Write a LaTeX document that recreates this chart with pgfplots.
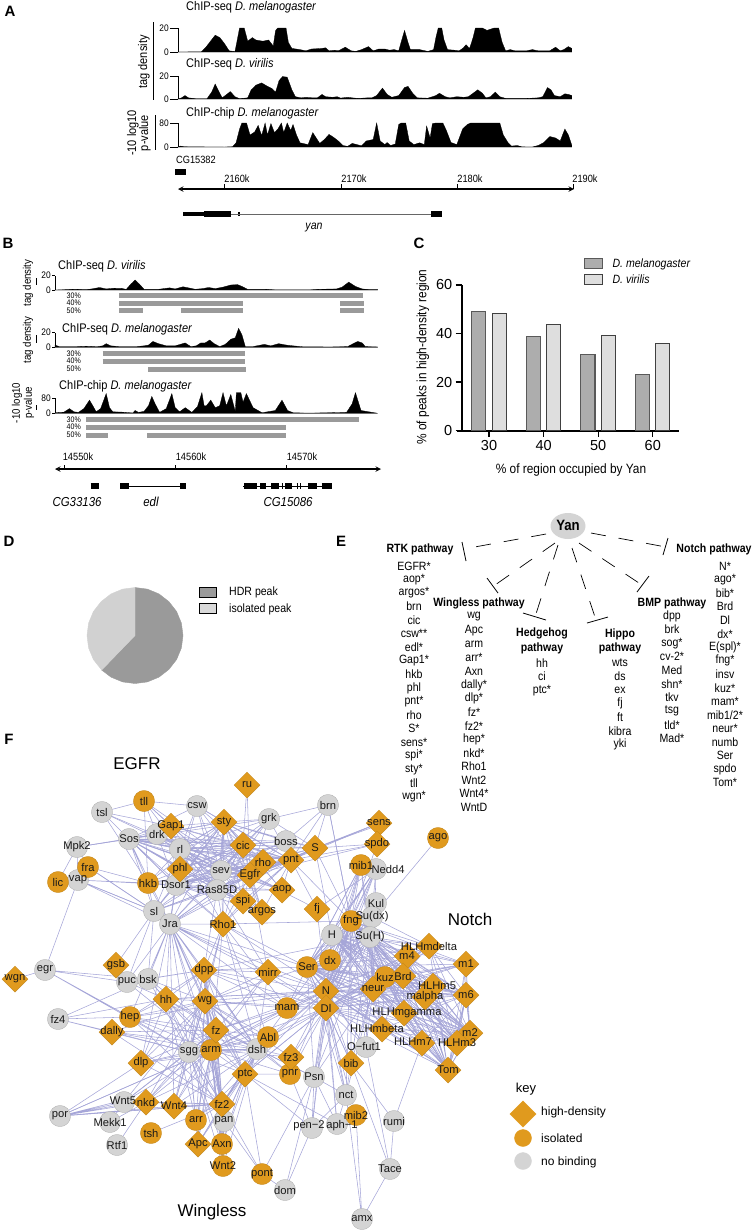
\documentclass[border=0pt]{standalone}
\usepackage{fontspec}
\usepackage{pgfplots}
\usepackage{pgfplotstable}
\pgfplotsset{compat=1.18}
\setmainfont{Liberation Sans}
\newfontfamily\cond[FakeStretch=0.88]{Liberation Sans}
\newcommand{\fs}[1]{\fontsize{#1}{#1}\selectfont}
\definecolor{edgec}{HTML}{A6A6D8}
\definecolor{orn}{HTML}{E09A1E}
\definecolor{gry}{HTML}{D4D4D4}
\definecolor{barg}{HTML}{9A9A9A}
\pgfplotsset{/pgf/number format/assume math mode=true,
 trk/.style={scale only axis,clip=false,axis y line=left,hide x axis,xtick=\empty,axis line style={-},
 tick align=outside,major tick length=3pt,tick style={black,line width=.5pt},
 yticklabel style={font=\cond\fs{9.5},inner sep=1pt},line width=.6pt}}
\pgfplotstableread{
x y label
247 785 ru
171 826 Gap1
224 822 sty
243 845 cic
263 862 rho
291 860 pnt
180 869 phl
250 875 Egfr
282 890 aop
243 901 spi
262 912 argos
223 924 Rho1
116 965 gsb
204 970 dpp
268 972 mirr
15 979 wgn
166 999 hh
205 1001 wg
112 1032 dally
216 1030 fz
291 1057 fz3
141 1063 dlp
245 1074 ptc
146 1102 nkd
174 1106 Wnt4
222 1104 fz2
198 1144 Apc
379 823 sens
315 848 S
377 844 spdo
317 909 fj
429 946 HLHmdelta
407 956 m4
466 964 m1
403 976 Brd
433 986 {}
326 991 N
373 989 neur
425 997 malpha
466 995 m6
326 1008 Dl
404 1013 {}
382 1029 {}
470 1033 m2
422 1043 {}
457 1043 HLHm3
351 1063 bib
448 1070 Tom
}\diam
\pgfplotstableread{
x y label
144 801 tll
88 867 fra
58 882 lic
148 883 hkb
287 1008 mam
130 1017 hep
268 1037 Abl
211 1050 arm
290 1074 pnr
196 1120 arr
151 1133 tsh
222 1144 Axn
223 1166 Wnt2
262 1174 pont
438 838 ago
361 865 mib1
351 921 fng
330 960 dx
307 967 Ser
385 977 kuz
356 1115 mib2
}\circl
\pgfplotstableread{
x y label
102 812 tsl
197 806 csw
269 819 grk
157 834 drk
129 839 Sos
77 847 Mpk2
286 841 boss
180 849 rl
78 880 vap
176 885 Dsor1
221 871 sev
217 890 Ras85D
154 911 sl
170 924 Jra
45 970 egr
127 982 puc
148 979 bsk
58 1019 fz4
189 1052 sgg
257 1049 dsh
124 1102 {}
60 1116 por
224 1121 pan
110 1122 Mekk1
117 1145 Rtf1
285 1190 dom
328 805 brn
376 869 {}
376 903 Kul
372 917 Su(dx)
332 935 H
370 937 Su(H)
366 1047 {}
314 1077 Psn
346 1095 nct
394 1121 rumi
312 1128 {}
337 1124 {}
390 1169 Tace
362 1219 amx
}\grayn
\pgfplotstableread{
x y label
388 869 Nedd4
437 986 HLHm5
407 1013 HLHmgamma
377 1028 HLHmbeta
413 1042 HLHm7
364 1046 O−fut1
309 1126 pen−2
342 1126 aph−1
123 1101 Wnt5
}\offl
\def\RTK{171/826,197/806,224/822,269/819,157/834,129/839,286/841,243/845,180/849,263/862,291/860,180/869,148/883,176/885,221/871,217/890,282/890,243/901,262/912,154/911,170/924,223/924,315/848}
\def\WGL{205/1001,166/999,204/970,216/1030,130/1017,112/1032,141/1063,245/1074,222/1104,174/1106,146/1102,196/1120,224/1121,198/1144,222/1144,223/1166,189/1052,211/1050,257/1049,268/1037}
\def\NOT{373/989,385/977,403/976,407/956,429/946,466/964,466/995,433/986,425/997,404/1013,382/1029,470/1033,422/1043,457/1043,448/1070}
\def\COR{326/991,326/1008,307/967,330/960,351/921,332/935,370/937,372/917,376/903,361/865,376/869,351/1063,314/1077,287/1008,366/1047,346/1095}
\newcommand{\hub}[3]{\edef\lst{#3}\gdef\acc{}\foreach \a/\b in \lst {\xdef\acc{\acc(#1,#2)(\a,\b)}}\edef\tmp{\noexpand\addplot[edgec,line width=.55pt,forget plot] coordinates {\acc};}\tmp}
\begin{document}
\begin{tikzpicture}[x=1pt,y=1pt]
\path[use as bounding box] (0pt,-1232pt) rectangle (755pt,0pt);
\begin{axis}[at={(0pt,-1232pt)},anchor=south west,width=755pt,height=1232pt,scale only axis,
 xmin=0,xmax=755,ymin=0,ymax=1232,y dir=reverse,hide axis,clip=false,unbounded coords=jump]
% network edges
\hub{250}{875}{\RTK,102/812,144/801,247/785,379/823,377/844,317/909,268/972}
\hub{217}{890}{\RTK,204/970,268/972}
\hub{221}{871}{\RTK,144/801}
\hub{243}{845}{\RTK,247/785}
\hub{176}{885}{\RTK,148/883}
\hub{180}{849}{\RTK,144/801,102/812}
\hub{129}{839}{\RTK,77/847}
\hub{291}{860}{\RTK,315/848,379/823,377/844,317/909,328/805}
\hub{224}{822}{\RTK}
\hub{170}{924}{176/885,148/883,154/911,217/890,223/924,204/970,205/1001,166/999,148/979,127/982,216/1030,211/1050,189/1052,257/1049,326/991,326/1008,287/1008,307/967,130/1017,141/1063,222/1104,245/1074,268/972,174/1106}
\hub{223}{924}{243/901,211/1050,268/1037,257/1049,189/1052,205/1001,204/970,326/991,287/1008,307/967,351/921}
\hub{154}{911}{148/883,176/885,127/982,116/965,148/979,88/867,78/880}
\hub{78}{880}{58/882,148/883,176/885,154/911,170/924,45/970,88/867,77/847}
\hub{88}{867}{148/883,154/911,77/847}
\hub{102}{812}{144/801,129/839,148/883,171/826}
\hub{144}{801}{197/806,171/826,157/834,148/883}
\hub{77}{847}{129/839,157/834,58/882}
\hub{45}{970}{15/979,127/982,130/1017,148/979,189/1052}
\hub{58}{1019}{130/1017,112/1032,148/979,189/1052,166/999}
\hub{60}{1116}{124/1102,124/1100,124/1104,146/1102,141/1063,174/1106,211/1050,222/1104}
\hub{117}{1145}{146/1102}
\hub{110}{1122}{124/1102,146/1102}
\hub{211}{1050}{\WGL,287/1008,326/991,326/1008,291/1057,290/1074,60/1116,148/979,127/982,268/972,124/1102}
\hub{189}{1052}{\WGL,326/991,287/1008,124/1102,148/979}
\hub{257}{1049}{\WGL,326/991,326/1008,287/1008,314/1077,268/972,291/1057,290/1074}
\hub{216}{1030}{\WGL,326/991,287/1008,124/1102,148/979,268/972}
\hub{222}{1104}{\WGL,124/1102,60/1116,262/1174,151/1133}
\hub{205}{1001}{\WGL,326/991,326/1008,287/1008,148/979,307/967,268/972,291/1057,290/1074,124/1102}
\hub{204}{970}{166/999,148/979,127/982,268/972,326/991,326/1008,307/967,287/1008,245/1074,141/1063,174/1106,370/937,130/1017,216/1030,211/1050,257/1049}
\hub{166}{999}{148/979,127/982,130/1017,245/1074,141/1063,196/1120,326/991}
\hub{245}{1074}{290/1074,262/1174,337/1124,224/1121,196/1120,198/1144,222/1144,268/1037,326/1008,312/1128}
\hub{224}{1121}{262/1174,222/1144,223/1166}
\hub{262}{1174}{285/1190,314/1077}
\hub{285}{1190}{314/1077}
\hub{326}{991}{\NOT,\COR,268/972,290/1074,291/1057,268/1037,245/1074,166/999,130/1017,337/1124,312/1128,377/844,317/909}
\hub{326}{1008}{\NOT,\COR,268/972,290/1074,291/1057,268/1037,245/1074,337/1124,312/1128,356/1115}
\hub{370}{937}{\NOT,\COR}
\hub{373}{989}{\NOT,\COR}
\hub{307}{967}{\NOT,\COR}
\hub{351}{921}{\NOT,\COR,361/865,376/869,328/805,291/860}
\hub{385}{977}{\NOT}
\hub{403}{976}{\NOT}
\hub{448}{1070}{\NOT,326/991}
\hub{470}{1033}{\NOT}
\hub{457}{1043}{\NOT}
\hub{466}{995}{\NOT}
\hub{332}{935}{\NOT}
\hub{372}{917}{438/838,429/946}
\hub{361}{865}{330/960,332/935,307/967}
\hub{376}{869}{330/960,332/935,307/967,317/909}
\hub{315}{848}{328/805,379/823,379/825,377/844,286/841,269/819,351/921,332/935}
\hub{328}{805}{286/841,269/819,351/921}
\hub{314}{1077}{312/1128,337/1124,346/1095,257/1049}
\hub{346}{1095}{337/1124,312/1128}
\hub{394}{1121}{351/1063,422/1043,390/1169}
\hub{390}{1169}{362/1219,366/1047,351/1063}
\hub{362}{1219}{356/1115,346/1095}
\hub{312}{1128}{285/1190,290/1074}
% node marks
\addplot[only marks,mark=*,mark size=10.6pt,mark options={fill=gry,draw=gry!80!black,line width=.3pt}] table[x=x,y=y] {\grayn};
\addplot[only marks,mark=*,mark size=10.6pt,mark options={fill=orn,draw=orn!85!black,line width=.3pt}] table[x=x,y=y] {\circl};
\addplot[only marks,mark=square*,mark size=9.2pt,mark options={rotate=45,fill=orn,draw=orn!85!black,line width=.3pt}] table[x=x,y=y] {\diam};
% node labels
\pgfplotsset{lbl/.style={only marks,mark=none,nodes near coords,point meta=explicit symbolic,nodes near coords style={anchor=center,inner sep=0pt,font=\fs{11.2},text=black!90}}}
\addplot[lbl] table[x=x,y=y,meta=label] {\grayn};
\addplot[lbl] table[x=x,y=y,meta=label] {\circl};
\addplot[lbl] table[x=x,y=y,meta=label] {\diam};
\addplot[lbl] table[x=x,y=y,meta=label] {\offl};
% key
\addplot[only marks,mark=square*,mark size=9.2pt,mark options={rotate=45,fill=orn,draw=orn}] coordinates {(523,1114)};
\addplot[only marks,mark=*,mark size=8.5pt,mark options={fill=orn,draw=orn}] coordinates {(523,1138)};
\addplot[only marks,mark=*,mark size=8.5pt,mark options={fill=gry,draw=gry}] coordinates {(523,1161)};
% pie D
\addplot[fill=barg,draw=barg] coordinates {(135,635.5)(135,587.5)(147.4,589.1)(159,593.9)(168.9,601.6)(176.6,611.5)(181.4,623.1)(183,635.5)(181.4,647.9)(176.6,659.5)(168.9,669.4)(159,677.1)(147.4,681.9)(135,683.5)(122.6,681.9)(111,677.1)(101.7,670)(135,635.5)};
\addplot[fill=black!18,draw=black!18] coordinates {(135,635.5)(101.7,670)(93.4,659.5)(88.6,647.9)(87,635.5)(88.6,623.1)(93.4,611.5)(101.1,601.6)(111,593.9)(122.6,589.1)(135,587.5)(135,635.5)};
\addplot[fill=barg,draw=black,line width=.7pt] coordinates {(199.5,587)(216,587)(216,597)(199.5,597)(199.5,587)};
\addplot[fill=black!15,draw=black,line width=.7pt] coordinates {(199.5,603)(216,603)(216,613)(199.5,613)(199.5,603)};
% E schematic
\pgfplotsset{dsh/.style={black,line width=.7pt,dash pattern=on 15pt off 13pt},bar/.style={black,line width=.8pt}}
\addplot[dsh] coordinates {(546,534)(469,548)};
\addplot[bar] coordinates {(462,542)(466,561)};
\addplot[dsh] coordinates {(555,543)(495,585)};
\addplot[bar] coordinates {(487,578)(498,593)};
\addplot[dsh] coordinates {(558,545)(535,617)};
\addplot[bar] coordinates {(523,613)(546,620)};
\addplot[dsh] coordinates {(572,548)(596,620)};
\addplot[bar] coordinates {(587,623)(608,617)};
\addplot[dsh] coordinates {(579,543)(642,585)};
\addplot[bar] coordinates {(649,576)(637,592)};
\addplot[dsh] coordinates {(591,533)(666,547)};
\addplot[bar] coordinates {(668,538)(663,555)};
% B percent bars
\addplot[barg,line width=5pt] coordinates {(119.3,295.7)(363.3,295.7)(nan,nan)(119.3,303)(243,303)(nan,nan)(340,303)(363.7,303)(nan,nan)(119.3,310.7)(143.3,310.7)(nan,nan)(181,310.7)(243,310.7)(nan,nan)(340,310.7)(363.7,310.7)
 (nan,nan)(102.7,353.3)(245,353.3)(nan,nan)(102.7,361)(245,361)(nan,nan)(148,369)(245.7,369)
 (nan,nan)(86.3,419.3)(359.3,419.3)(nan,nan)(86.3,427)(285.7,427)(nan,nan)(86.3,435)(108,435)(nan,nan)(147,435)(285.7,435)};
% side bars A/B
\addplot[black,line width=.8pt] coordinates {(153,22)(153,100)(nan,nan)(155.7,115)(155.7,150)(nan,nan)(36,278)(36,285)(nan,nan)(36,335)(36,343)(nan,nan)(36,405)(36,410)};
% C x axis stub
\addplot[black,line width=2pt] coordinates {(457,430.7)(462,430.7)};
% A genomic axis
\addplot[black,line width=1.4pt,<->,>=stealth] coordinates {(178,189)(574,189)};
\addplot[black,line width=.5pt] coordinates {(224.5,184)(224.5,189)(nan,nan)(341,184)(341,189)(nan,nan)(457,184)(457,189)(nan,nan)(573,184)(573,189)};
\addplot[black,line width=6pt] coordinates {(175,172)(186,172)(nan,nan)(204,214)(231,214)(nan,nan)(431,214)(442,214)};
\addplot[black,line width=4.5pt] coordinates {(183,214)(204,214)(nan,nan)(238,214)(240,214)};
\addplot[black!60,line width=.8pt] coordinates {(231,214)(431,214)};
% B genomic axis
\addplot[black,line width=1.4pt,<->,>=stealth] coordinates {(55,469)(381,469)};
\addplot[black,line width=.5pt] coordinates {(64,465)(64,469)(nan,nan)(175.7,465)(175.7,469)(nan,nan)(286.7,465)(286.7,469)};
\addplot[black,line width=.8pt] coordinates {(120,486)(186,486)(nan,nan)(243,486)(332,486)};
\addplot[black,line width=6pt] coordinates {(90.7,486)(99.3,486)(nan,nan)(120,486)(129,486)(nan,nan)(180,486)(186,486)(nan,nan)(244,486)(257,486)(nan,nan)(260,486)(265.7,486)(nan,nan)(271,486)(279.3,486)(nan,nan)(281.7,486)(282.7,486)(nan,nan)(285,486)(291.7,486)(nan,nan)(296.7,486)(297.3,486)(nan,nan)(300,486)(301,486)(nan,nan)(308.3,486)(316.7,486)(nan,nan)(321.7,486)(331.7,486)};
\end{axis}
% A tracks
\begin{axis}[trk,major tick length=8pt,at={(178pt,-52pt)},width=395pt,height=24pt,xmin=2156,xmax=2190,ymin=0,ymax=20,ytick={0,20}]
\addplot[fill=black,draw=black,line width=.3pt] coordinates {(2156,0)(2158,0.2)(2158.4,4)(2158.8,9)(2159.2,14)(2159.6,12)(2160,7)(2160.4,1)(2160.9,0.3)(2161.1,10)(2161.3,20)(2161.7,20)(2162,9)(2162.4,12)(2162.7,10)(2163.3,9)(2163.8,10)(2164.2,5)(2164.4,18)(2164.6,20)(2165.3,20)(2165.5,8)(2165.8,3)(2166.5,2)(2167,1)(2167.5,2.5)(2168.4,3)(2168.7,3.5)(2169,1)(2169.5,1.5)(2169.8,1)(2170.4,4)(2170.9,1)(2171.3,0.5)(2171.8,2)(2172.4,4.5)(2172.8,1)(2173.3,2.5)(2173.8,2.5)(2174.2,1.5)(2174.6,2)(2175,1)(2175.2,8)(2175.5,18)(2175.8,8)(2176,2)(2176.8,2)(2177.5,0.5)(2178,2)(2178.2,12)(2178.4,20)(2178.7,20)(2178.9,10)(2179.2,2)(2179.8,1.5)(2180.2,1)(2180.5,3)(2180.8,6)(2181.1,3)(2181.4,12)(2181.6,20)(2182.2,20)(2182.6,18)(2183.2,20)(2183.6,20)(2183.9,8)(2184.2,1)(2184.6,2)(2185,1)(2186,1)(2186.5,2)(2187,1)(2187.5,1)(2188,1)(2188.5,4)(2188.9,1)(2189.2,2)(2189.6,4.5)(2189.9,3)(2189.9,0)} \closedcycle;
\end{axis}
\begin{axis}[trk,major tick length=8pt,at={(178pt,-99pt)},width=395pt,height=23pt,xmin=2156,xmax=2190,ymin=0,ymax=20,ytick={0,20}]
\addplot[fill=black,draw=black,line width=.3pt] coordinates {(2156,0)(2156.3,1)(2156.6,3)(2156.9,1)(2157.5,0.3)(2158.5,0.3)(2158.9,6)(2159.2,13)(2159.5,7)(2159.8,1)(2160.2,4)(2160.5,6.5)(2160.9,2)(2161.3,0.3)(2162,1)(2162.3,8)(2162.7,12)(2163.2,14)(2163.7,11)(2164.1,9)(2164.4,6)(2164.7,16)(2165,19.5)(2165.4,19)(2165.8,8)(2166.1,2)(2166.6,1)(2167,1.5)(2167.6,1)(2168,1)(2168.4,4)(2168.7,2)(2169.3,1.5)(2169.7,2)(2170,0.8)(2170.6,1.5)(2171,1)(2171.5,0.5)(2172.3,1)(2172.7,1)(2173.1,3)(2173.6,9.5)(2174,4)(2174.4,1.5)(2175,3)(2175.5,10)(2175.8,11)(2176.2,5)(2176.6,1)(2177.5,0.7)(2178.2,3)(2178.5,5)(2179,2)(2179.4,1)(2180,2)(2180.6,1.5)(2181,2)(2181.8,8)(2182.2,5)(2182.5,1)(2182.9,2)(2183.3,6)(2183.7,2)(2184.2,0.5)(2186,0.5)(2187,1)(2187.4,2)(2187.8,10)(2188.1,8)(2188.4,3)(2188.9,2)(2189.3,4.5)(2189.6,4)(2189.9,3)(2189.9,0)} \closedcycle;
\end{axis}
\begin{axis}[trk,major tick length=8pt,at={(178pt,-147pt)},width=395pt,height=24pt,xmin=2156,xmax=2190,ymin=0,ymax=80,ytick={0,80}]
\addplot[fill=black,draw=black,line width=.3pt] coordinates {(2156,1)(2156.2,3)(2156.5,1)(2157.5,0.5)(2160,0)(2160.7,1)(2161,14)(2161.3,60)(2161.5,80)(2161.9,80)(2162.2,40)(2162.6,50)(2162.9,72)(2163.2,38)(2163.5,80)(2163.7,40)(2164,78)(2164.3,48)(2164.6,60)(2164.9,80)(2165.1,48)(2165.4,80)(2165.7,55)(2165.9,75)(2166.2,40)(2166.5,14)(2167.2,8)(2167.6,48)(2167.9,30)(2168.2,12)(2168.6,25)(2169,42)(2169.4,32)(2169.8,20)(2170.2,5)(2170.6,2)(2171,12)(2171.4,8)(2171.8,4)(2172.2,20)(2172.8,25)(2173.1,80)(2173.4,20)(2173.8,8)(2174,15)(2174.3,5)(2174.7,10)(2175,75)(2175.2,80)(2175.6,80)(2175.9,20)(2176.3,8)(2176.8,14)(2177.2,8)(2177.4,70)(2177.7,30)(2177.9,78)(2178.2,80)(2178.8,80)(2179.1,55)(2179.5,15)(2180,8)(2180.5,60)(2180.9,75)(2181.2,80)(2183.7,80)(2184,40)(2184.4,15)(2184.7,3)(2185.2,5)(2185.6,0.5)(2186.5,0)(2187,5)(2187.5,15)(2188,35)(2188.5,30)(2188.9,20)(2189.3,60)(2189.6,40)(2189.9,5)(2189.9,0)} \closedcycle;
\end{axis}
% B tracks
\begin{axis}[trk,at={(55pt,-290pt)},width=322.7pt,height=14.3pt,xmin=14549.2,xmax=14578.2,ymin=0,ymax=20,ytick={0,20}]
\addplot[fill=black,draw=black,line width=.3pt] coordinates {(14549.2,0)(14551,1)(14552,0.5)(14552.5,1.5)(14553.2,3.5)(14553.8,1.5)(14554.5,2.5)(14555.2,2.3)(14555.6,0.8)(14556,8)(14556.4,14)(14556.8,8)(14557.2,1)(14558.5,1)(14559.5,3)(14560,1.5)(14560.7,4.5)(14561.2,3)(14561.8,1)(14562.5,2)(14563,3.5)(14563.6,2)(14564.3,4)(14565,7)(14565.6,7.5)(14566,5)(14566.5,1)(14568,1)(14569,0.3)(14572,0.2)(14573,1)(14574.5,1.5)(14575,4)(14575.6,11)(14576.2,5)(14576.8,1.5)(14577.5,0.5)(14578.2,0.5)(14578.2,0)} \closedcycle;
\end{axis}
\begin{axis}[trk,at={(55pt,-347.3pt)},width=322.7pt,height=14.6pt,xmin=14549.2,xmax=14578.2,ymin=0,ymax=20,ytick={0,20}]
\addplot[fill=black,draw=black,line width=.3pt] coordinates {(14549.2,3)(14549.6,1)(14551,1)(14552,1.5)(14553,1)(14553.5,2)(14553.8,5)(14554.2,2)(14555,1)(14556.5,1)(14557.2,2)(14557.6,3)(14558,8)(14558.5,5)(14559.2,2)(14560,2)(14560.9,6)(14561.4,1)(14561.9,2)(14562.3,6)(14562.7,6)(14563.1,10)(14563.5,5)(14564,1)(14564.5,4)(14565,11)(14565.4,13)(14565.7,26)(14566,17)(14566.3,1)(14567,1)(14568,4)(14568.6,2)(14569.3,5)(14570,3)(14570.6,2)(14571.5,0.7)(14574,0.5)(14575.5,1)(14576,5)(14576.4,8)(14576.8,6)(14577.1,1)(14578.2,0.5)(14578.2,0)} \closedcycle;
\end{axis}
\begin{axis}[trk,at={(55pt,-413.3pt)},width=322.7pt,height=15pt,xmin=14549.2,xmax=14578.2,ymin=0,ymax=80,ytick={0,80}]
\addplot[fill=black,draw=black,line width=.3pt] coordinates {(14549.2,2)(14549.5,5)(14550,6)(14550.5,25)(14550.9,8)(14551.3,5)(14551.8,25)(14552.3,70)(14552.6,40)(14552.9,8)(14553.3,25)(14553.8,105)(14554.1,30)(14554.4,8)(14555.3,6)(14556.2,2)(14556.4,15)(14556.7,5)(14557.2,10)(14557.6,40)(14557.9,90)(14558.2,50)(14558.6,5)(14559.2,25)(14559.7,105)(14560,30)(14560.4,8)(14560.9,30)(14561.5,5)(14562,35)(14562.4,110)(14562.6,40)(14562.8,40)(14563.2,70)(14563.6,30)(14564,40)(14564.3,110)(14564.6,40)(14565,100)(14565.4,10)(14565.5,110)(14565.9,110)(14566.1,60)(14566.4,105)(14567,30)(14567.8,3)(14569,15)(14569.6,70)(14570.1,15)(14570.6,3)(14572,1)(14575.4,5)(14575.9,50)(14576.2,110)(14576.7,15)(14577.5,7)(14578.2,0)(14578.2,0)} \closedcycle;
\end{axis}
% C bars
\begin{axis}[at={(461.7pt,-430.7pt)},anchor=south west,width=217.3pt,height=145.7pt,scale only axis,
 xmin=25,xmax=64.8,ymin=0,ymax=60,axis x line*=bottom,axis y line*=left,axis line style={-,line width=2pt},
 xtick={30,40,50,60},ytick={0,20,40,60},tick align=outside,major tick length=6pt,tick style={black,line width=1.3pt},
 xtick pos=lower,ytick pos=left,
 ticklabel style={font=\fs{14.5}},
 legend style={at={(0.56,1.195)},anchor=north west,draw=none,fill=none,font=\cond\itshape\fs{12},inner sep=0pt,row sep=1.5pt,cells={anchor=west}},
 legend image code/.code={\draw[#1] (0pt,-5pt) rectangle (18pt,5pt);\path (26pt,0pt);}]
\addplot[ybar,bar width=14pt,bar shift=-10.2pt,fill=black!32,draw=black!65,line width=1pt] coordinates {(30,49.2)(40,38.9)(50,31.3)(60,23.1)};
\addplot[ybar,bar width=14pt,bar shift=10.2pt,fill=black!13,draw=black!75,line width=1pt] coordinates {(30,48.1)(40,43.7)(50,39.3)(60,36.1)};
\legend{D. melanogaster,D. virilis}
\end{axis}
% text
\tikzset{L/.style={anchor=west,inner sep=0pt},C/.style={anchor=center,inner sep=0pt},pl/.style={anchor=center,inner sep=0pt,font=\bfseries\fs{15}}}
\node[pl] at (10pt,-11pt) {A};\node[pl] at (8pt,-243pt) {B};\node[pl] at (419pt,-243pt) {C};
\node[pl] at (9pt,-541pt) {D};\node[pl] at (341pt,-541pt) {E};\node[pl] at (9pt,-739pt) {F};
\begin{scope}[font=\cond\fs{12.5}]
\node[L] at (186pt,-7pt) {ChIP-seq \textit{D. melanogaster}};
\node[L] at (186pt,-64pt) {ChIP-seq \textit{D. virilis}};
\node[L] at (186pt,-113pt) {ChIP-chip \textit{D. melanogaster}};
\node[C,rotate=90] at (144pt,-62pt) {tag density};
\node[C,rotate=90] at (133pt,-133pt) {-10 log10};
\node[C,rotate=90] at (145pt,-133pt) {p-value};
\node[L] at (58pt,-266pt) {ChIP-seq \textit{D. virilis}};
\node[L] at (62pt,-329pt) {ChIP-seq \textit{D. melanogaster}};
\node[L] at (59pt,-386pt) {ChIP-chip \textit{D. melanogaster}};
\end{scope}
\begin{scope}[font=\cond\fs{11}]
\node[C,rotate=90] at (28pt,-283pt) {tag density};
\node[C,rotate=90] at (28pt,-340pt) {tag density};
\node[C,rotate=90] at (17pt,-403pt) {-10 log10};
\node[C,rotate=90] at (29pt,-403pt) {p-value};
\end{scope}
\begin{scope}[font=\cond\fs{10.5}]
\node[L] at (176pt,-160pt) {CG15382};
\node[C] at (237pt,-179pt) {2160k};\node[C] at (354pt,-179pt) {2170k};\node[C] at (470pt,-179pt) {2180k};\node[C] at (585pt,-179pt) {2190k};
\node[C] at (78pt,-457pt) {14550k};\node[C] at (191pt,-457pt) {14560k};\node[C] at (302pt,-457pt) {14570k};
\end{scope}
\node[C,font=\cond\itshape\fs{12}] at (314pt,-228pt) {yan};
\node[C,font=\cond\itshape\fs{13}] at (77pt,-502pt) {CG33136};
\node[C,font=\cond\itshape\fs{13}] at (151pt,-502pt) {edl};
\node[C,font=\cond\itshape\fs{13}] at (288pt,-502pt) {CG15086};
\begin{scope}[font=\cond\fs{8}]
\foreach \y in {295.7,353.3,419.3}{\node[anchor=east,inner sep=0pt] at (81pt,{-\y*1pt}) {30\%};}
\foreach \y in {303,361,427}{\node[anchor=east,inner sep=0pt] at (81pt,{-\y*1pt}) {40\%};}
\foreach \y in {310.7,369,435}{\node[anchor=east,inner sep=0pt] at (81pt,{-\y*1pt}) {50\%};}
\end{scope}
\node[C,rotate=90,font=\cond\fs{13.5}] at (423pt,-357pt) {\% of peaks in high-density region};
\node[C,font=\cond\fs{13.5}] at (571pt,-470pt) {\% of region occupied by Yan};
\node[L,font=\cond\fs{12}] at (229pt,-592pt) {HDR peak};
\node[L,font=\cond\fs{12}] at (229pt,-609pt) {isolated peak};
% E
\fill[black!17] (568pt,-526pt) ellipse (17.5pt and 13pt);
\node[C,font=\cond\bfseries\fs{15}] at (568pt,-525pt) {Yan};
\begin{scope}[font=\cond\bfseries\fs{12}]
\node[C] at (420pt,-549pt) {RTK pathway};
\node[C] at (479pt,-603pt) {Wingless pathway};
\node[C] at (542pt,-633pt) {Hedgehog};\node[C] at (542pt,-648pt) {pathway};
\node[C] at (620pt,-634pt) {Hippo};\node[C] at (620pt,-648pt) {pathway};
\node[C] at (672pt,-603pt) {BMP pathway};
\node[C] at (714pt,-549pt) {Notch pathway};
\end{scope}
\begin{scope}[font=\cond\fs{12}]
\foreach \t [count=\i] in {EGFR*,aop*,argos*,brn,cic,csw**,edl*,Gap1*,hkb,phl,pnt*,rho,S*,sens*,spi*,sty*,tll,wgn*}
 {\node[C] at (414pt,{-(566+13.55*(\i-1))*1pt}) {\t};}
\foreach \t [count=\i] in {wg,Apc,arm,arr*,Axn,dally*,dlp*,fz*,fz2*,hep*,nkd*,Rho1,Wnt2,Wnt4*,WntD}
 {\node[C] at (474pt,{-(617+13.6*(\i-1))*1pt}) {\t};}
\foreach \t [count=\i] in {hh,ci,ptc*}
 {\node[C] at (542pt,{-(663+13.6*(\i-1))*1pt}) {\t};}
\foreach \t [count=\i] in {wts,ds,ex,fj,ft,kibra,yki}
 {\node[C] at (620pt,{-(663+13.6*(\i-1))*1pt}) {\t};}
\foreach \t [count=\i] in {dpp,brk,sog*,cv-2*,Med,shn*,tkv,tsg,tld*,Mad*}
 {\node[C] at (672pt,{-(616+13.6*(\i-1))*1pt}) {\t};}
\foreach \t [count=\i] in {N*,ago*,bib*,Brd,Dl,dx*,E(spl)*,fng*,insv,kuz*,mam*,mib1/2*,neur*,numb,Ser,spdo,Tom*}
 {\node[C] at (725pt,{-(566+13.55*(\i-1))*1pt}) {\t};}
\end{scope}
% F
\node[C,font=\fs{17}] at (137pt,-764pt) {EGFR};
\node[C,font=\fs{17}] at (470pt,-919pt) {Notch};
\node[C,font=\fs{17}] at (212pt,-1212pt) {Wingless};
\node[C,font=\fs{13}] at (526pt,-1089pt) {key};
\node[L,font=\fs{12}] at (541pt,-1112pt) {high-density};
\node[L,font=\fs{12}] at (541pt,-1138pt) {isolated};
\node[L,font=\fs{12}] at (541pt,-1162pt) {no binding};
\end{tikzpicture}
\end{document}
